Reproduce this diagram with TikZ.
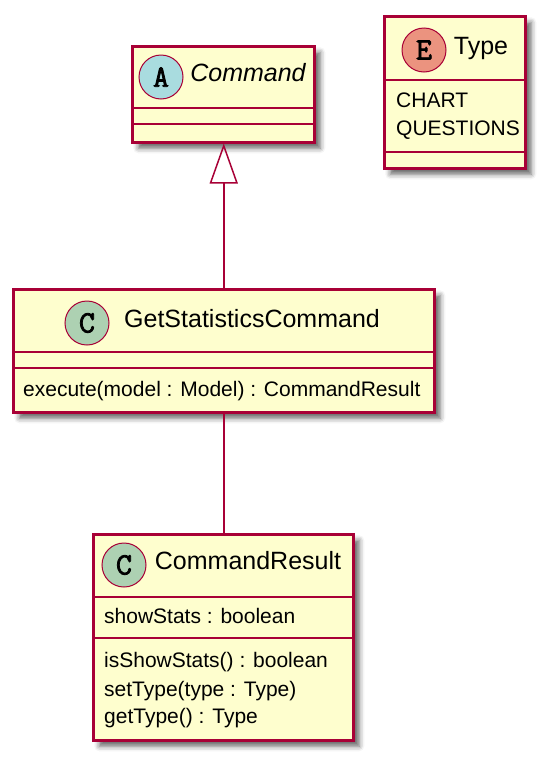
\documentclass[tikz,border=0pt]{standalone}
\usepackage{fontspec}
\setmainfont{Liberation Sans}
\newfontfamily\circfont[FakeBold=2.5]{Latin Modern Mono}
\usetikzlibrary{arrows.meta,shadows.blur}

\definecolor{umlfill}{HTML}{FEFECE}
\definecolor{umlline}{HTML}{A80036}
\definecolor{circC}{HTML}{ADD1B2}
\definecolor{circA}{HTML}{A9DCDF}
\definecolor{circE}{HTML}{EB937F}

\tikzset{
  classbox/.style={draw=umlline, fill=umlfill, line width=2.5pt, anchor=north west,
    blur shadow={shadow xshift=6pt, shadow yshift=-6pt, shadow blur radius=5pt, shadow opacity=60}},
  sepline/.style={draw=umlline, line width=2.5pt},
  circ/.style={circle, draw=umlline, line width=1pt, minimum size=44pt, inner sep=0pt,
    font=\circfont\fontsize{31}{31}\selectfont},
  classname/.style={anchor=mid, inner sep=0pt, font=\fontsize{25}{29}\selectfont},
  member/.style={anchor=mid west, inner sep=0pt, font=\fontsize{21}{25}\selectfont},
  umledge/.style={draw=umlline, line width=1.5pt},
}

\begin{document}
\begin{tikzpicture}[x=1pt, y=-1pt]
  \useasboundingbox (0,0) rectangle (544,758);

  % abstract class Command
  \node[classbox, minimum width=182pt, minimum height=96pt] (command) at (131,45) {};
  \draw[sepline] (command.west |- 0,108) -- (command.east |- 0,108);
  \draw[sepline] (command.west |- 0,124) -- (command.east |- 0,124);
  \node[circ, fill=circA] (commandcirc) at (161,77) {A};
  \node[classname] (commandname) at (248,79) {\itshape Command};

  % enum Type
  \node[classbox, minimum width=141pt, minimum height=152pt] (type) at (383,15) {};
  \draw[sepline] (type.west |- 0,80) -- (type.east |- 0,80);
  \draw[sepline] (type.west |- 0,152) -- (type.east |- 0,152);
  \node[circ, fill=circE] (typecirc) at (424,50) {E};
  \node[classname] (typename) at (481,52) {Type};
  \node[member] (typechart) at (396,105) {CHART};
  \node[member] (typequest) at (396,133) {QUESTIONS};

  % class GetStatisticsCommand
  \node[classbox, minimum width=421pt, minimum height=123pt] (getstats) at (12,288) {};
  \draw[sepline] (getstats.west |- 0,352) -- (getstats.east |- 0,352);
  \draw[sepline] (getstats.west |- 0,368) -- (getstats.east |- 0,368);
  \node[circ, fill=circC] (getstatscirc) at (87,323) {C};
  \node[classname] (getstatsname) at (252,325) {GetStatisticsCommand};
  \node[member] (getstatsexec) at (23,394) {execute(model : Model) : CommandResult};

  % class CommandResult
  \node[classbox, minimum width=260pt, minimum height=206pt] (result) at (92,533) {};
  \draw[sepline] (result.west |- 0,597) -- (result.east |- 0,597);
  \draw[sepline] (result.west |- 0,638) -- (result.east |- 0,638);
  \node[circ, fill=circC] (resultcirc) at (124,565) {C};
  \node[classname] (resultname) at (248,567) {CommandResult};
  \node[member] (resultfield) at (104,621) {showStats : boolean};
  \node[member] (resultis) at (104,665) {isShowStats() : boolean};
  \node[member] (resultset) at (104,694) {setType(type : Type)};
  \node[member] (resultget) at (104,721) {getType() : Type};

  % relations
  \draw[umledge, -{Triangle[open, length=40pt, width=28pt]}] (getstats.north) -- (getstats.north |- command.south);
  \draw[umledge] (getstats.south) -- (getstats.south |- result.north);
\end{tikzpicture}
\end{document}
